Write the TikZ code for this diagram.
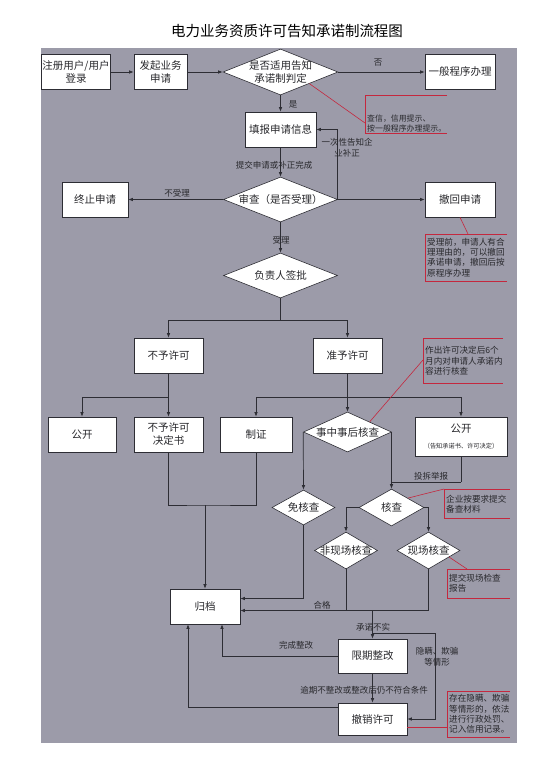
\documentclass[tikz,border=0pt]{standalone}
\usepackage{fontspec}
\setmainfont{Noto Sans CJK SC}
\usepackage{tikz}
\usetikzlibrary{shapes.geometric,arrows.meta,calc}
\definecolor{flowgray}{RGB}{156,155,169}
\definecolor{flowline}{RGB}{45,45,52}
\definecolor{notered}{RGB}{196,40,62}
\definecolor{flowtext}{RGB}{40,40,44}

\begin{document}
\begin{tikzpicture}[x=1pt, y=-1pt,
  box/.style={draw=flowline, fill=white, line width=0.6pt, minimum height=35pt,
    align=center, inner sep=1pt, text=flowtext, font=\fontsize{10.5}{13}\selectfont},
  decision/.style={draw=flowline, fill=white, line width=0.6pt, diamond, inner sep=0pt},
  dtext/.style={align=center, inner sep=0pt, text=flowtext, font=\fontsize{10.5}{13}\selectfont},
  flow/.style={draw=flowline, line width=0.7pt},
  arr/.style={flow, -{Latex[length=4.5pt,width=3.6pt]}},
  lbl/.style={inner sep=0.5pt, align=center, text=flowtext, font=\fontsize{8.5}{10.5}\selectfont},
  notebar/.style={draw=notered, line width=0.6pt},
  note/.style={inner sep=0pt, align=left, anchor=west, text=flowtext, font=\fontsize{8.6}{10.3}\selectfont}
]
  \useasboundingbox (0,0) rectangle (559,761);
  % background
  \fill[flowgray] (41,48) rectangle (517,743);
  \node[text=black, font=\fontsize{14.5}{17}\selectfont] (title) at (287,31) {电力业务资质许可告知承诺制流程图};

  % application
  \node[box, minimum width=68pt] (reg) at (76,72) {注册用户/用户\\登录};
  \node[box, minimum width=53pt] (apply) at (160.5,72) {发起业务\\申请};
  \node[decision, minimum width=115pt, minimum height=46pt,
    label={[dtext]center:是否适用告知\\承诺制判定}] (judge) at (280.5,72) {};
  \node[box, minimum width=70pt] (normal) at (460,72) {一般程序办理};
  \node[box, minimum width=71pt] (fill) at (280.5,129.5) {填报申请信息};
  \node[decision, minimum width=114pt, minimum height=45pt,
    label={[dtext]center:审查（是否受理）}] (review) at (280.5,199.5) {};
  \node[box, minimum width=66pt] (stop) at (95,199.5) {终止申请};
  \node[box, minimum width=70pt] (withdraw) at (460,199.5) {撤回申请};
  \node[decision, minimum width=114pt, minimum height=45pt,
    label={[dtext]center:负责人签批}] (sign) at (280.5,275.5) {};

  % decision
  \node[box, minimum width=69pt] (deny) at (168.5,355.5) {不予许可};
  \node[box, minimum width=69pt] (grant) at (347.5,355.5) {准予许可};
  \node[box, minimum width=68pt] (openL) at (82,434.5) {公开};
  \node[box, minimum width=69pt] (denydoc) at (168.5,434.5) {不予许可\\决定书};
  \node[box, minimum width=72pt] (cert) at (256,434.5) {制证};
  \node[decision, minimum width=88pt, minimum height=40pt,
    label={[dtext]center:事中事后核查}] (check) at (347.5,432) {};
  \node[box, minimum width=92pt, minimum height=39pt] (openR) at (461,436.5)
    {公开\\[3pt]{\fontsize{6.2}{8}\selectfont （告知承诺书、许可决定）}};

  % supervision
  \node[decision, minimum width=63pt, minimum height=35pt,
    label={[dtext]center:免核查}] (exempt) at (303.5,507.5) {};
  \node[decision, minimum width=65pt, minimum height=37pt,
    label={[dtext]center:核查}] (verify) at (391.5,507.5) {};
  \node[decision, minimum width=63pt, minimum height=37pt,
    label={[dtext]center:非现场核查}] (offsite) at (346,550.5) {};
  \node[decision, minimum width=63pt, minimum height=37pt,
    label={[dtext]center:现场核查}] (onsite) at (428.5,550.5) {};
  \node[box, minimum width=70pt] (archive) at (205,606.5) {归档};
  \node[box, minimum width=69pt, minimum height=34pt] (rectify) at (372.5,656) {限期整改};
  \node[box, minimum width=69pt, minimum height=32pt] (revoke) at (372.5,719) {撤销许可};

  % connectors
  \foreach \a/\b in {reg/apply, apply/judge, judge/normal, review/withdraw}
    \draw[arr] (\a.east) -- (\b.west);
  \draw[arr] (review.west) -- (stop.east);
  \draw[arr] (judge.south) -- (fill.north);
  \draw[arr] (fill.south) -- (review.north);
  \draw[arr] (review.east) |- (fill.east);
  \draw[arr] (review.south) -- (sign.north);

  \coordinate (signfork) at (280.5,320);
  \draw[flow] (sign.south) -- (signfork);
  \foreach \n in {deny, grant}
    \draw[arr] (signfork) -| (\n.north);

  \coordinate (denyfork) at (168.5,397);
  \draw[flow] (deny.south) -- (denyfork);
  \foreach \n in {openL, denydoc}
    \draw[arr] (denyfork) -| (\n.north);

  \coordinate (grantfork) at (347.5,397);
  \draw[flow] (grant.south) -- (grantfork);
  \foreach \n in {cert, check, openR}
    \draw[arr] (grantfork) -| (\n.north);

  \coordinate (docjoin) at (205,505);
  \draw[flow] (denydoc.south) |- (docjoin) -| (cert.south);
  \draw[arr] (docjoin) -- (archive.north);

  \coordinate (reportjoin) at (461,482);
  \draw[flow] (openR.south) -- (reportjoin);
  \draw[flow] (check.east) -- (check.east |- reportjoin);
  \draw[arr] (reportjoin) -| (verify.north);
  \draw[arr] (check.west) -- (exempt.north);
  \draw[arr] (verify.west) -| (offsite.north);
  \draw[arr] (verify.east) -| (onsite.north);

  \draw[arr] (exempt.south) |- ([yshift=8pt]archive.east);
  \draw[arr] (onsite.south) |- ([yshift=-4pt]archive.east);
  \coordinate (pass) at (372.5,610.5);
  \draw[flow] (offsite.south) -- (offsite.south |- pass);
  \draw[arr] (pass) -- (rectify.north);
  \coordinate (hide) at (372.5,633);
  \coordinate (hidecorner) at (435,633);
  \draw[arr] (hide) -- (hidecorner) |- (revoke.east);
  \draw[arr] (rectify.south) -- (revoke.north);
  \draw[arr] (rectify.west) -| ([xshift=17pt]archive.south);
  \draw[arr] ([yshift=12pt]revoke.west) -| ([xshift=-17pt]archive.south);

  % connector labels
  \node[lbl] (nolbl) at (378,63) {否};
  \node[lbl] (yeslbl) at (293,104) {是};
  \node[lbl] (submitlbl) at (274,165) {提交申请或补正完成};
  \node[lbl] (correctlbl) at (347,147.5) {一次性告知企\\业补正};
  \node[lbl] (rejectlbl) at (177,193) {不受理};
  \node[lbl] (acceptlbl) at (281,240) {受理};
  \node[lbl] (reportlbl) at (431,476) {投拆举报};
  \node[lbl] (passlbl) at (322,605.5) {合格};
  \node[lbl] (falselbl) at (373,627) {承诺不实};
  \node[lbl] (donelbl) at (296,645) {完成整改};
  \node[lbl] (hidelbl) at (437,657) {隐瞒、欺骗\\等情形};
  \node[lbl] (overduelbl) at (364,690) {逾期不整改或整改后仍不符合条件};

  % red notes
  \foreach \xa/\ya/\xb/\yb in {365/95/447/133, 425/234/507/281, 423/338/503/383,
                               444/489/510/518, 447/569/510/598, 447/691/510/737}
    \draw[notebar] (\xb,\ya) -| (\xa,\yb) -- (\xb,\yb);
  \node[note, font=\fontsize{7.9}{10}\selectfont] (noteA) at (367,124) {查信，信用提示、\\按一般程序办理提示。};
  \node[note] (noteB) at (427,257.5) {受理前，申请人有合\\理理由的，可以撤回\\承诺申请，撤回后按\\原程序办理};
  \node[note] (noteC) at (425,361) {作出许可决定后6个\\月内对申请人承诺内\\容进行核查};
  \node[note] (noteD) at (446,504.5) {企业按要求提交\\备查材料};
  \node[note] (noteE) at (449,583) {提交现场检查\\报告};
  \node[note] (noteF) at (449,714) {存在隐瞒、欺骗\\等情形的，依法\\进行行政处罚、\\记入信用记录。};
  \coordinate (pinA) at (365,123);
  \coordinate (pinB) at (468,234);
  \coordinate (pinC) at (423,360);
  \coordinate (pinD) at (444,489);
  \coordinate (pinE) at (467,569);
  \coordinate (pinF) at (447,727);
  \draw[notebar] (judge.south east) -- (pinA);
  \draw[notebar] (withdraw.south) -- (pinB);
  \draw[notebar] (check.north east) -- (pinC);
  \draw[notebar] (verify.north east) -- (pinD);
  \draw[notebar] ($(onsite.east)!0.35!(onsite.south)$) -- (pinE);
  \draw[notebar] ([yshift=-8pt]revoke.east) -- (pinF);
\end{tikzpicture}
\end{document}
